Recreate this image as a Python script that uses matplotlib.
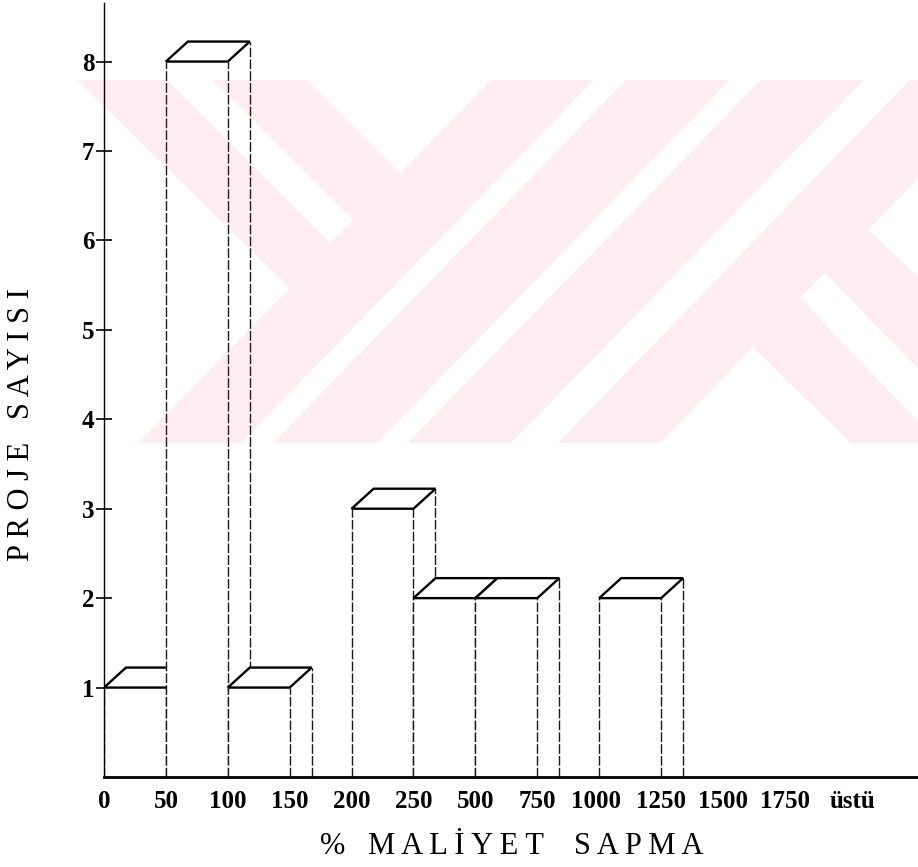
import numpy as np
import matplotlib.pyplot as plt
from matplotlib.patches import Polygon, PathPatch
from matplotlib.path import Path

plt.rcParams["font.family"] = ["Liberation Serif", "DejaVu Serif"]

# ── Data: cost overrun classes (%) and number of projects ───────────────────
class_edges = ["0", "50", "100", "150", "200", "250", "500", "750",
               "1000", "1250", "1500", "1750", "üstü"]
project_counts = [1, 8, 1, 0, 3, 2, 2, 0, 2, 0, 0, 0]

# ── Layout (pixels of a 918 x 867 canvas) ───────────────────────────────────
W, H = 918, 867
SLOT_PX, UNIT_PX = 61.9, 89.43        # px per class slot / per project
DEPTH_X, DEPTH_Y = 22 / SLOT_PX, 20 / UNIT_PX
label_pos = [0, 1, 2, 3, 4, 5, 6, 7, 7.95, 9, 10, 11, 12.1]

fig = plt.figure(figsize=(W / 100, H / 100), dpi=100)
ax = fig.add_axes([104 / W, 90 / H, 814 / W, 774 / H])
ax.set_xlim(0, 814 / SLOT_PX)
ax.set_ylim(0, 774 / UNIT_PX)

# front faces through the library, tops and sides as pseudo-3D polygons
x0 = np.arange(len(project_counts))
bars = ax.bar(x0, project_counts, width=1.0, align="edge",
              color="white", edgecolor="none")

dash = (0, (7, 1.5))
for i, (rect, h) in enumerate(zip(bars, project_counts)):
    z = 3 + i
    rect.set_zorder(z)
    if h == 0:
        rect.set_visible(False)
        continue
    left, right = rect.get_x(), rect.get_x() + rect.get_width()
    side = Polygon([(right, 0), (right, h), (right + DEPTH_X, h + DEPTH_Y),
                    (right + DEPTH_X, 0)], closed=True,
                   facecolor="white", edgecolor="none", zorder=z + 0.1)
    top = Polygon([(left, h), (right, h), (right + DEPTH_X, h + DEPTH_Y),
                   (left + DEPTH_X, h + DEPTH_Y)], closed=True,
                  facecolor="white", edgecolor="black", lw=1.7, zorder=z + 0.3)
    ax.add_patch(side)
    ax.add_patch(top)
    for xv, yt in [(left, h), (right, h), (right + DEPTH_X, h + DEPTH_Y)]:
        ax.plot([xv, xv], [0, yt], color="#1a1a1a", lw=1.0, ls=dash,
                zorder=z + 0.2, solid_capstyle="butt")

# axes styling
for s in ("top", "right"):
    ax.spines[s].set_visible(False)
ax.spines["left"].set_linewidth(1.0)
ax.spines["bottom"].set_linewidth(2.0)
ax.spines["left"].set_zorder(50)
ax.spines["bottom"].set_zorder(50)

ax.set_yticks(range(1, 9))
ax.set_yticklabels([str(v) for v in range(1, 9)], fontsize=18, fontweight="bold")
ax.tick_params(axis="y", direction="inout", length=12, width=1.2, pad=1)

ax.set_xticks(label_pos)
ax.set_xticklabels(class_edges, fontsize=18, fontweight="bold")
ax.tick_params(axis="x", length=0, pad=9)

fig.text(512 / W, 1 - 846 / H, "%   M A L İ Y E T    S A P M A",
         fontsize=22, ha="center", va="center")
fig.text(22 / W, 1 - 425 / H, "P R O J E   S A Y I S I",
         fontsize=22, ha="center", va="center", rotation=90)

# ── Faint watermark band laid over the page ─────────────────────────────────
def ring(pts, ccw):
    pts = np.asarray(pts, float)
    area = 0.5 * np.sum(pts[:, 0] * np.roll(pts[:, 1], -1)
                        - np.roll(pts[:, 0], -1) * pts[:, 1])
    return pts if (area > 0) == ccw else pts[::-1]

band = [(77, 80), (930, 80), (930, 443), (138, 443), (290, 288)]
holes = [
    [(167, 80), (213, 80), (353, 220), (330, 243)],
    [(307, 80), (491, 80), (400, 173)],
    [(594, 80), (626, 80), (273, 443), (241, 443)],
    [(730, 80), (761, 80), (408, 443), (377, 443)],
    [(864, 80), (910, 80), (558, 443), (511, 443)],
    [(930, 166), (868, 230), (930, 288)],
    [(825, 273), (930, 381), (930, 434), (800, 298)],
    [(753, 347), (660, 443), (851, 443)],
]
verts, codes = [], []
for k, poly in enumerate([band] + holes):
    r = ring(poly, ccw=(k == 0))
    verts += list(r) + [r[0]]
    codes += [Path.MOVETO] + [Path.LINETO] * (len(r) - 1) + [Path.CLOSEPOLY]

wm = fig.add_axes([0, 0, 1, 1], zorder=20)
wm.set_xlim(0, W)
wm.set_ylim(H, 0)
wm.axis("off")
wm.patch.set_alpha(0)
wm.add_patch(PathPatch(Path(verts, codes), facecolor="#e8204a",
                       edgecolor="none", alpha=0.08))

fig.savefig("out.png", dpi=100)
